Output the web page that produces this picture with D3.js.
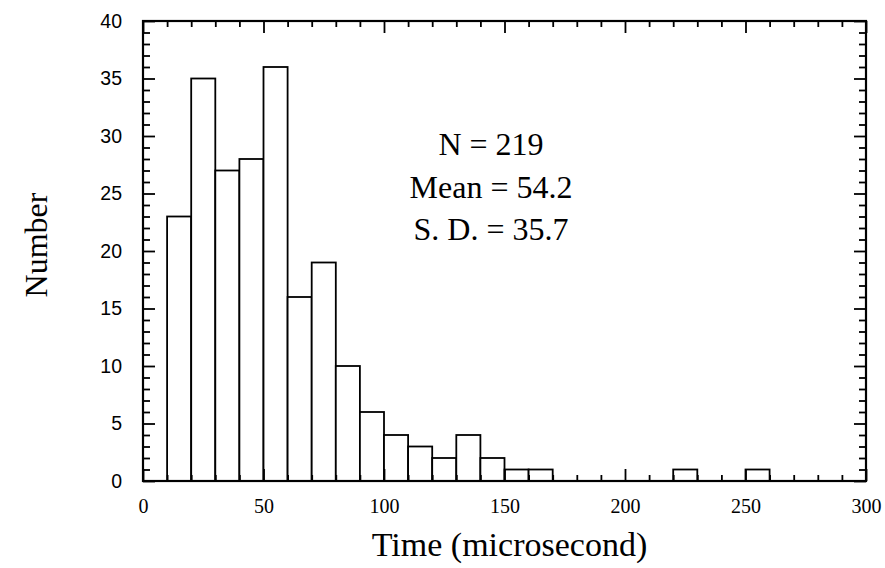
<!DOCTYPE html>
<html>
<head>
<meta charset="utf-8">
<script src="https://cdn.jsdelivr.net/npm/d3@7"></script>
<style>
  body { margin: 0; background: #fff; }
  .serif { font-family: "Liberation Serif", "Times New Roman", serif; }
</style>
</head>
<body>
<div id="chart"></div>
<script>
// Histogram Data (bin start in microseconds, count per 10-us bin)
const binStarts = [10, 20, 30, 40, 50, 60, 70, 80, 90, 100, 110, 120, 130, 140, 150, 160, 220, 250];
const counts    = [23, 35, 27, 28, 36, 16, 19, 10,  6,   4,   3,   2,   4,   2,   1,   1,   1,   1];
const binWidth = 10;
const xTicks = [0, 50, 100, 150, 200, 250, 300];
const yTicks = [0, 5, 10, 15, 20, 25, 30, 35, 40];
const statLines = ["N = 219", "Mean = 54.2", "S. D. = 35.7"];

// Dimensions
let w = 885, h = 568;
let plotLeft = 143, plotRight = 866, plotTop = 21, plotBottom = 481;

let svg = d3.select("#chart").append("svg").attr("width", w).attr("height", h);

// Scales
let xScale = d3.scaleLinear().domain([0, 300]).range([plotLeft, plotRight]);
let yScale = d3.scaleLinear().domain([0, 40]).range([plotBottom, plotTop]);

// Bars
svg.selectAll("rect.bar").data(binStarts).enter().append("rect")
  .attr("class", "bar")
  .attr("x", d => xScale(d))
  .attr("y", (d, i) => yScale(counts[i]))
  .attr("width", d => xScale(d + binWidth) - xScale(d))
  .attr("height", (d, i) => yScale(0) - yScale(counts[i]))
  .attr("fill", "#fff").attr("stroke", "#000").attr("stroke-width", 1.8);

// Minor tick values
let xMinor = d3.range(0, 301, 10).filter(v => v % 50 != 0);
let yMinor = d3.range(0, 41, 1).filter(v => v % 5 != 0);

function styleAxis(g) {
  g.select(".domain").remove();
  g.selectAll(".tick line").attr("stroke", "#000").attr("stroke-width", 1.8);
}

// Bottom axis (labels + major), minor
svg.append("g").attr("transform", "translate(0," + plotBottom + ")")
  .call(d3.axisBottom(xScale).tickValues(xTicks).tickSize(-12).tickPadding(18))
  .call(styleAxis)
  .call(g => g.selectAll("text").attr("class", "serif").attr("font-size", 20).attr("fill", "#000"));
svg.append("g").attr("transform", "translate(0," + plotBottom + ")")
  .call(d3.axisBottom(xScale).tickValues(xMinor).tickSize(-6).tickFormat(""))
  .call(styleAxis);

// Top axis
svg.append("g").attr("transform", "translate(0," + plotTop + ")")
  .call(d3.axisTop(xScale).tickValues(xTicks).tickSize(-12).tickFormat(""))
  .call(styleAxis);
svg.append("g").attr("transform", "translate(0," + plotTop + ")")
  .call(d3.axisTop(xScale).tickValues(xMinor).tickSize(-6).tickFormat(""))
  .call(styleAxis);

// Left axis
svg.append("g").attr("transform", "translate(" + plotLeft + ",0)")
  .call(d3.axisLeft(yScale).tickValues(yTicks).tickSize(-12).tickPadding(21))
  .call(styleAxis)
  .call(g => g.selectAll("text").attr("font-family", "Liberation Sans, Arial, sans-serif").attr("font-size", 19.5).attr("fill", "#000"));
svg.append("g").attr("transform", "translate(" + plotLeft + ",0)")
  .call(d3.axisLeft(yScale).tickValues(yMinor).tickSize(-7).tickFormat(""))
  .call(styleAxis);

// Right axis
svg.append("g").attr("transform", "translate(" + plotRight + ",0)")
  .call(d3.axisRight(yScale).tickValues(yTicks).tickSize(-12).tickFormat(""))
  .call(styleAxis);
svg.append("g").attr("transform", "translate(" + plotRight + ",0)")
  .call(d3.axisRight(yScale).tickValues(yMinor).tickSize(-7).tickFormat(""))
  .call(styleAxis);

// Frame
svg.append("rect").attr("x", plotLeft).attr("y", plotTop)
  .attr("width", plotRight - plotLeft).attr("height", plotBottom - plotTop)
  .attr("fill", "none").attr("stroke", "#000").attr("stroke-width", 2.2);

// Axis titles
svg.append("text").attr("class", "serif").attr("x", (plotLeft + plotRight) / 2 + 5).attr("y", 556)
  .attr("text-anchor", "middle").attr("font-size", 34).text("Time (microsecond)");
svg.append("text").attr("class", "serif")
  .attr("transform", "translate(47," + 245 + ") rotate(-90)")
  .attr("text-anchor", "middle").attr("font-size", 32).text("Number");

// Stats annotation
svg.selectAll("text.stat").data(statLines).enter().append("text")
  .attr("class", "serif stat")
  .attr("x", 491).attr("y", (d, i) => 155 + i * 42.5)
  .attr("text-anchor", "middle").attr("font-size", 32).text(d => d);
</script>
</body>
</html>
